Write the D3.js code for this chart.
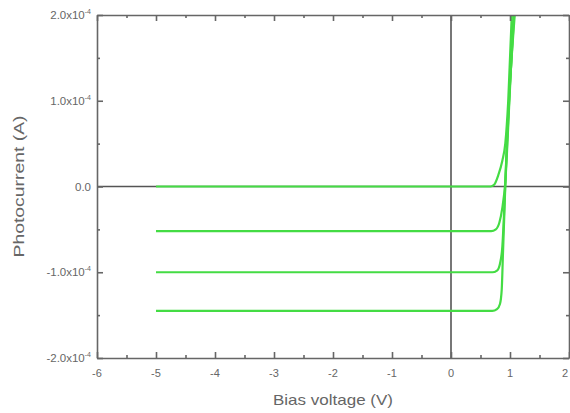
<!DOCTYPE html>
<html>
<head>
<meta charset="utf-8">
<script src="https://cdn.jsdelivr.net/npm/d3@7"></script>
<style>
  body { margin: 0; background: #fff; }
  svg { display: block; font-family: Arial, "Liberation Sans", sans-serif; }
  .axis path, .axis line { stroke: #666; stroke-width: 1.6; }
  .lbl { fill: #666; }
</style>
</head>
<body>
<svg id="chart-svg" width="570" height="413"></svg>
<script>
////////////////////////////////////////////////////////////////////////////////
// Data: photocurrent (units of 1e-4 A) vs bias voltage (V), four curves
var curve0 = [[-5,0],[0.67,0],[0.73,0.02],[0.8,0.13],[0.87,0.3],[0.92,0.5],[0.97,1.0],[1.03,2.0]];
var curve1 = [[-5,-0.52],[0.68,-0.52],[0.76,-0.5],[0.82,-0.42],[0.87,-0.25],[0.92,0.05],[0.99,1.0],[1.06,2.0]];
var curve2 = [[-5,-1.0],[0.70,-1.0],[0.78,-0.98],[0.83,-0.9],[0.87,-0.7],[0.9,-0.3],[0.93,0.2],[1.0,1.2],[1.07,2.0]];
var curve3 = [[-5,-1.45],[0.70,-1.45],[0.78,-1.43],[0.83,-1.37],[0.86,-1.2],[0.88,-0.8],[0.91,-0.2],[0.94,0.4],[1.0,1.2],[1.08,2.0]];
var curves = [curve0, curve1, curve2, curve3];

var xTicks = [-6,-5,-4,-3,-2,-1,0,1,2];
var xMinor = [-5.5,-4.5,-3.5,-2.5,-1.5,-0.5,0.5,1.5];
var yTicks = [2,1,0,-1,-2];
var yMinor = [1.5,0.5,-0.5,-1.5];
var yTickLabels = ["2.0x10", "1.0x10", "0.0", "-1.0x10", "-2.0x10"];

////////////////////////////////////////////////////////////////////////////////
const svg = d3.select("#chart-svg");
var margin_left = 97, margin_right = 1, margin_top = 15, margin_bottom = 55;
var w = 570, h = 413;

var x = d3.scaleLinear().domain([-6, 2]).range([margin_left, w - margin_right]);
var y = d3.scaleLinear().domain([-2, 2]).range([h - margin_bottom, margin_top]);

// clip for curves
svg.append("clipPath").attr("id", "clip")
   .append("rect")
   .attr("x", x(-6)).attr("y", y(2))
   .attr("width", x(2) - x(-6)).attr("height", y(-2) - y(2));

// zero lines
svg.append("line").attr("x1", x(-6)).attr("x2", x(2)).attr("y1", y(0)).attr("y2", y(0))
   .attr("stroke", "#555").attr("stroke-width", 1.6);
svg.append("line").attr("x1", x(0)).attr("x2", x(0)).attr("y1", y(-2)).attr("y2", y(2))
   .attr("stroke", "#555").attr("stroke-width", 1.6);

// curves
var line = d3.line()
  .x(function(d) { return x(d[0]); })
  .y(function(d) { return y(d[1]); })
  .curve(d3.curveMonotoneX);
svg.append("g").attr("clip-path", "url(#clip)")
   .selectAll("path")
   .data(curves)
   .enter()
   .append("path")
   .attr("d", line)
   .attr("fill", "none")
   .attr("stroke", "#44dc44")
   .attr("stroke-width", 2.2)
   .attr("stroke-linejoin", "round");

// axes: major + minor ticks pointing inwards
function drawAxis(axisFn, scale, major, minor, tx, ty, size) {
  svg.append("g").attr("class", "axis").attr("transform", "translate(" + tx + "," + ty + ")")
     .call(axisFn(scale).tickValues(major).tickSize(-size).tickSizeOuter(0).tickFormat(""));
  svg.append("g").attr("class", "axis").attr("transform", "translate(" + tx + "," + ty + ")")
     .call(axisFn(scale).tickValues(minor).tickSize(-size / 2).tickSizeOuter(0).tickFormat(""))
     .select(".domain").remove();
}
drawAxis(d3.axisBottom, x, xTicks, xMinor, 0, y(-2), 6);
drawAxis(d3.axisTop, x, xTicks, xMinor, 0, y(2), 6);
drawAxis(d3.axisLeft, y, yTicks, yMinor, x(-6), 0, 6);
drawAxis(d3.axisRight, y, yTicks, yMinor, x(2), 0, 6);

// x tick labels
svg.selectAll(".xlab")
   .data(xTicks)
   .enter()
   .append("text")
   .attr("class", "lbl")
   .attr("x", function(d, i) { return i == xTicks.length - 1 ? x(d) - 1 : x(d); })
   .attr("y", y(-2) + 19)
   .attr("text-anchor", function(d, i) { return i == xTicks.length - 1 ? "end" : "middle"; })
   .attr("font-size", 11)
   .text(function(d) { return d; });

// y tick labels with superscript exponent
var ylab = svg.selectAll(".ylab")
   .data(yTicks)
   .enter()
   .append("text")
   .attr("class", "lbl")
   .attr("x", x(-6) - 6)
   .attr("y", function(d) { return y(d) + 4; })
   .attr("text-anchor", "end")
   .attr("font-size", 11.5);
ylab.append("tspan").text(function(d, i) { return yTickLabels[i]; });
ylab.filter(function(d) { return d != 0; })
    .append("tspan")
    .attr("dy", -5)
    .attr("font-size", 7)
    .text("-4");

// axis titles
svg.append("text")
   .attr("class", "lbl")
   .attr("x", 333).attr("y", 405)
   .attr("text-anchor", "middle")
   .attr("font-size", 15)
   .attr("textLength", 120)
   .attr("lengthAdjust", "spacingAndGlyphs")
   .text("Bias voltage (V)");
svg.append("text")
   .attr("class", "lbl")
   .attr("transform", "translate(24," + y(0) + ") rotate(-90)")
   .attr("x", 0).attr("y", 0)
   .attr("text-anchor", "middle")
   .attr("font-size", 15)
   .attr("textLength", 142)
   .attr("lengthAdjust", "spacingAndGlyphs")
   .text("Photocurrent (A)");
</script>
</body>
</html>
